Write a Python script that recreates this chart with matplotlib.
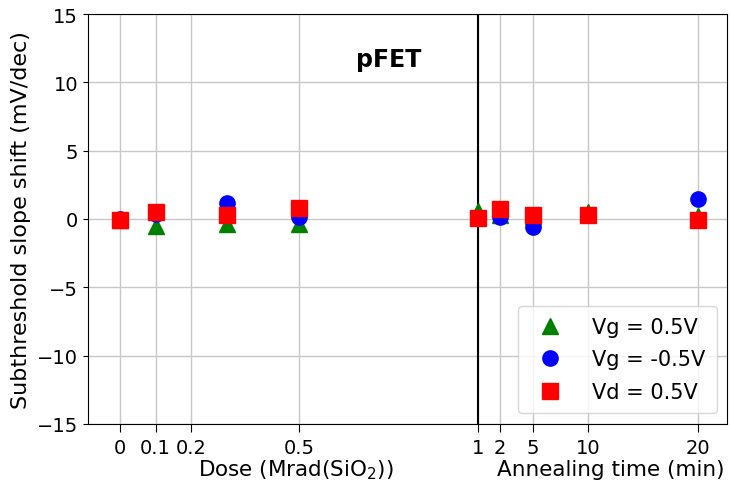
import matplotlib
matplotlib.use('Agg')
import matplotlib.pyplot as plt

# dose points (Mrad(SiO2)) and annealing times (min)
dose = [0, 0.1, 0.3, 0.5, 1]
anneal_time = [2, 5, 10, 20]

# subthreshold slope shift (mV/dec), dose points first then annealing
vg_pos = [-0.1, -0.5, -0.4, -0.35, 0.55, 0.3, 0.2, 0.5, 0.25]
vg_neg = [0.0, 0.35, 1.15, 0.15, 0.05, 0.15, -0.6, 0.3, 1.45]
vd_pos = [-0.1, 0.5, 0.3, 0.8, 0.1, 0.7, 0.3, 0.3, -0.1]

dose_ticks = [0, 0.1, 0.2, 0.5, 1]
anneal_ticks = [2, 5, 10, 20]

# annealing time is drawn to the right of the 1 Mrad line
anneal_scale = 1 / 32.5
x_pos = list(dose) + [1 + t * anneal_scale for t in anneal_time]

fig = plt.figure(figsize=(7.3, 4.85), dpi=100)
ax = fig.add_axes([0.1205, 0.124, 0.8755, 0.845])

ax.plot(x_pos, vg_pos, '^', color='green', markersize=11, label='Vg = 0.5V', zorder=3)
ax.plot(x_pos, vg_neg, 'o', color='blue', markersize=11, label='Vg = -0.5V', zorder=3)
ax.plot(x_pos, vd_pos, 's', color='red', markersize=11, label='Vd = 0.5V', zorder=3)

ax.axvline(1, color='black', linewidth=1.5, zorder=2)

ticks = dose_ticks + [1 + t * anneal_scale for t in anneal_ticks]
labels = [str(d) for d in dose_ticks] + [str(t) for t in anneal_ticks]
ax.set_xticks(ticks)
ax.set_xticklabels(labels, fontsize=14)
ax.tick_params(axis='x', length=6, pad=4)
ax.set_xlim(-0.089, 1.696)
ax.set_ylim(-15, 15)
ax.set_yticks([-15, -10, -5, 0, 5, 10, 15])
ax.tick_params(axis='y', labelsize=14)
ax.grid(True, color='#c8c8c8', linewidth=1)
ax.set_axisbelow(True)

ax.set_ylabel('Subthreshold slope shift (mV/dec)', fontsize=16)
ax.text(0.75, 11.7, 'pFET', fontsize=17, fontweight='bold', ha='center', va='center')

fig.text(0.405, 0.031, r'Dose (Mrad(SiO$_2$))', fontsize=15.5, ha='center', va='center')
fig.text(0.837, 0.031, 'Annealing time (min)', fontsize=15.5, ha='center', va='center')

ax.legend(loc='lower right', fontsize=15, handletextpad=1.0, borderpad=0.55,
          labelspacing=0.6, framealpha=0.8)

fig.savefig('out.png', dpi=100)
